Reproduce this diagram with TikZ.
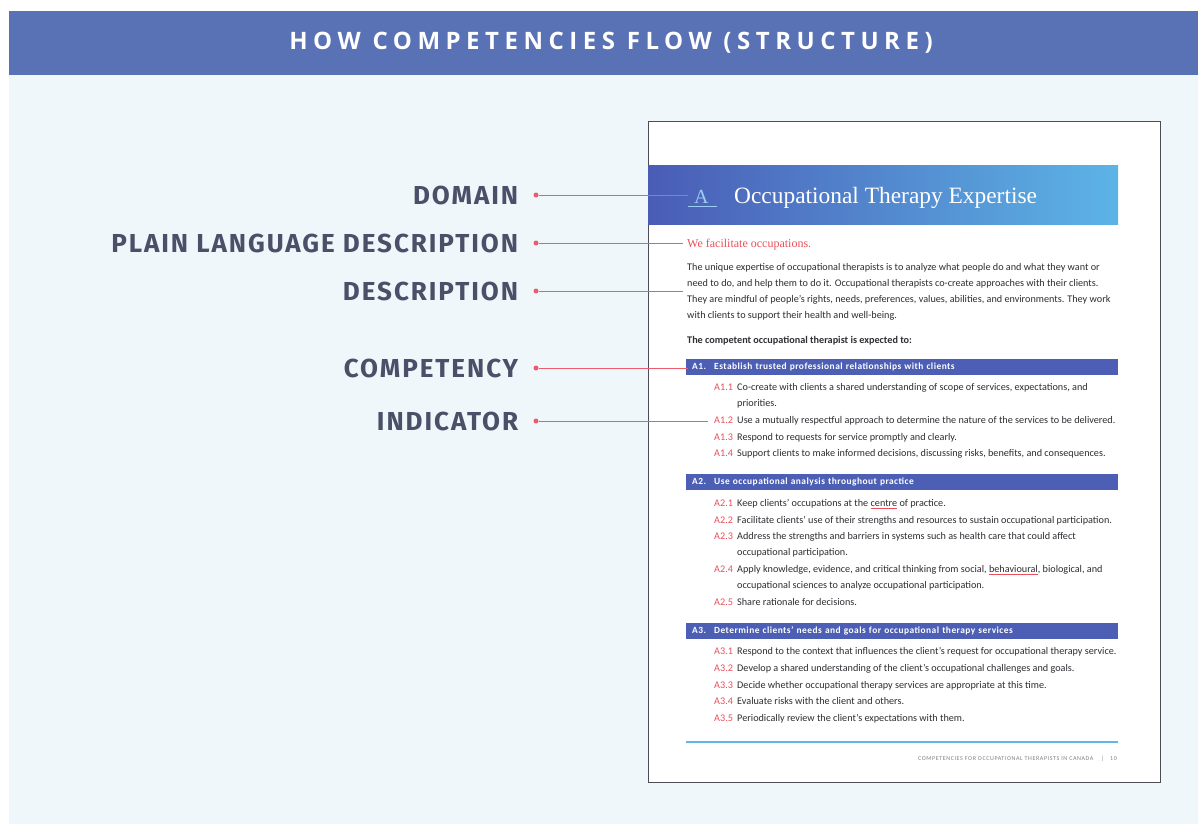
\documentclass[tikz,border=0pt]{standalone}
\usepackage{fontspec}
\setmainfont{Carlito}
\newfontfamily\labelfont{Fira Sans}[LetterSpace=7.5]
\newfontfamily\titlefont{Open Sans}[LetterSpace=23]
\newfontfamily\headfont{Liberation Serif}
\newfontfamily\barfont{Carlito}[LetterSpace=5]
\newfontfamily\footfont{Carlito}[LetterSpace=10]
\usetikzlibrary{positioning,calc}
\definecolor{barblue}{HTML}{5971B5}
\definecolor{bgblue}{HTML}{EFF7FB}
\definecolor{labelgray}{HTML}{4A5068}
\definecolor{linkred}{HTML}{EB5C6E}
\definecolor{compblue}{HTML}{4C5FB4}
\definecolor{codered}{HTML}{E8505B}
\definecolor{bodytext}{HTML}{2E2E33}
\definecolor{rulecyan}{HTML}{62B5E8}
\definecolor{pagegray}{HTML}{4D4D55}
\definecolor{bandleft}{HTML}{4A5CB6}
\definecolor{bandright}{HTML}{5CB4E6}
\definecolor{letterblue}{HTML}{9CCDF3}

\begin{document}
\begin{tikzpicture}[x=1pt,y=-1pt]
\tikzset{
	label node/.style = {inner sep=0, font=\labelfont\bfseries\fontsize{26}{26}\selectfont, text=labelgray},
	dot node/.style = {circle, fill=linkred, inner sep=0, minimum size=5pt},
	link/.style = {draw=linkred, line width=1pt},
	body node/.style = {anchor=base west, inner sep=0, font=\fontsize{10.2}{16}\selectfont, text=bodytext},
	code node/.style = {anchor=base west, inner sep=0, font=\fontsize{10.2}{16}\selectfont, text=codered},
	comp bar/.style = {anchor=west, fill=compblue, text=white, minimum height=16pt, inner ysep=0, inner xsep=6pt,
		text width=420pt, align=left, font=\barfont\bfseries\fontsize{9.4}{10}\selectfont}
}
\useasboundingbox (0,0) rectangle (1198,824);
\fill[bgblue] (9,75) rectangle (1198,824);
\node (head)[fill=barblue, anchor=north west, minimum width=1189pt, minimum height=64pt, inner sep=0] at (9,11) {};
\node (title)[text=white, inner sep=0, font=\titlefont\bfseries\fontsize{24}{24}\selectfont] at (611,43) {HOW COMPETENCIES FLOW (STRUCTURE)};

\node (page)[draw=pagegray, fill=white, line width=1.2pt, anchor=north west, minimum width=512pt, minimum height=661pt, inner sep=0] at (648,121) {};
\node (band)[anchor=north west, left color=bandleft, right color=bandright, minimum width=470pt, minimum height=59pt, inner sep=0] at (648,165) {};
\node (ltr)[anchor=base west, inner sep=0, text=letterblue, font=\headfont\fontsize{20}{20}\selectfont] at (694,203) {A};
\draw[letterblue, line width=1pt] ([xshift=-6pt,yshift=-3pt]ltr.base west) -- ([xshift=8pt,yshift=-3pt]ltr.base east);
\node (dname)[anchor=base west, inner sep=0, text=white, font=\headfont\fontsize{23.4}{23}\selectfont] at (734,203) {Occupational Therapy Expertise};

\node (plain)[anchor=base west, inner sep=0, text=codered, font=\headfont\fontsize{12}{12}\selectfont] at (687,247) {We facilitate occupations.};
\node (desc)[body node, anchor=west, align=left] at (687,292) {The unique expertise of occupational therapists is to analyze what people do and what they want or\\need to do, and help them to do it. Occupational therapists co-create approaches with their clients.\\They are mindful of people’s rights, needs, preferences, values, abilities, and environments. They work\\with clients to support their health and well-being.};
\node (exp)[body node, font=\bfseries\fontsize{10.2}{16}\selectfont] at (687,343) {The competent occupational therapist is expected to:};

\node (a1)[comp bar] at (686,367) {\makebox[22pt][l]{A1.}Establish trusted professional relationships with clients};
\node (a2)[comp bar] at (686,482) {\makebox[22pt][l]{A2.}Use occupational analysis throughout practice};
\node (a3)[comp bar] at (686,631) {\makebox[22pt][l]{A3.}Determine clients’ needs and goals for occupational therapy services};

\foreach \cd/\nm/\yy/\txt in {
	A1.1/a11/387/{Co-create with clients a shared understanding of scope of services, expectations, and},
	A1.2/a12/420/{Use a mutually respectful approach to determine the nature of the services to be delivered.},
	A1.3/a13/437/{Respond to requests for service promptly and clearly.},
	A1.4/a14/453/{Support clients to make informed decisions, discussing risks, benefits, and consequences.},
	A2.1/a21/503/{Keep clients’ occupations at the {\color{codered}\underline{\color{bodytext}centre}} of practice.},
	A2.2/a22/520/{Facilitate clients’ use of their strengths and resources to sustain occupational participation.},
	A2.3/a23/536/{Address the strengths and barriers in systems such as health care that could affect},
	A2.4/a24/569/{Apply knowledge, evidence, and critical thinking from social, {\color{codered}\underline{\color{bodytext}behavioural}}, biological, and},
	A2.5/a25/602/{Share rationale for decisions.},
	A3.1/a31/651/{Respond to the context that influences the client’s request for occupational therapy service.},
	A3.2/a32/668/{Develop a shared understanding of the client’s occupational challenges and goals.},
	A3.3/a33/685/{Decide whether occupational therapy services are appropriate at this time.},
	A3.4/a34/701/{Evaluate risks with the client and others.},
	A3.5/a35/718/{Periodically review the client’s expectations with them.}
}{
	\node (c\nm)[code node] at (714,\yy+3.3) {\cd};
	\node (t\nm)[body node] at (737,\yy+3.3) {\txt};
}
\node (m11)[body node] at (737,406.3) {priorities.};
\node (m23)[body node] at (737,555.3) {occupational participation.};
\node (m24)[body node] at (737,588.3) {occupational sciences to analyze occupational participation.};

\draw[rulecyan, line width=1.5pt] (686,742) -- (1118,742);
\node (foot)[anchor=base east, inner sep=0, text=gray, font=\footfont\fontsize{6}{6}\selectfont] at (1117,760) {COMPETENCIES FOR OCCUPATIONAL THERAPISTS IN CANADA \quad|\quad 10};

\node (d1)[dot node] at (536,195) {};
\node (d2)[dot node] at (536,243) {};
\node (d3)[dot node] at (536,291) {};
\node (d4)[dot node] at (536,368) {};
\node (d5)[dot node] at (536,421) {};
\node (l1)[label node, left=15pt of d1] {DOMAIN};
\node (l2)[label node, left=15pt of d2] {PLAIN LANGUAGE DESCRIPTION};
\node (l3)[label node, left=15pt of d3] {DESCRIPTION};
\node (l4)[label node, left=15pt of d4] {COMPETENCY};
\node (l5)[label node, left=15pt of d5] {INDICATOR};

\draw[link] (d1) -- ([xshift=-6pt]d1 -| ltr.west);
\draw[link] (d2) -- ([xshift=-4pt]d2 -| plain.west);
\draw[link] (d3) -- ([xshift=-4pt]d3 -| desc.west);
\draw[link] (d4) -- ([xshift=2pt]d4 -| a1.west);
\draw[link] (d5) -- ([xshift=-6pt]d5 -| ca12.west);
\end{tikzpicture}
\end{document}
